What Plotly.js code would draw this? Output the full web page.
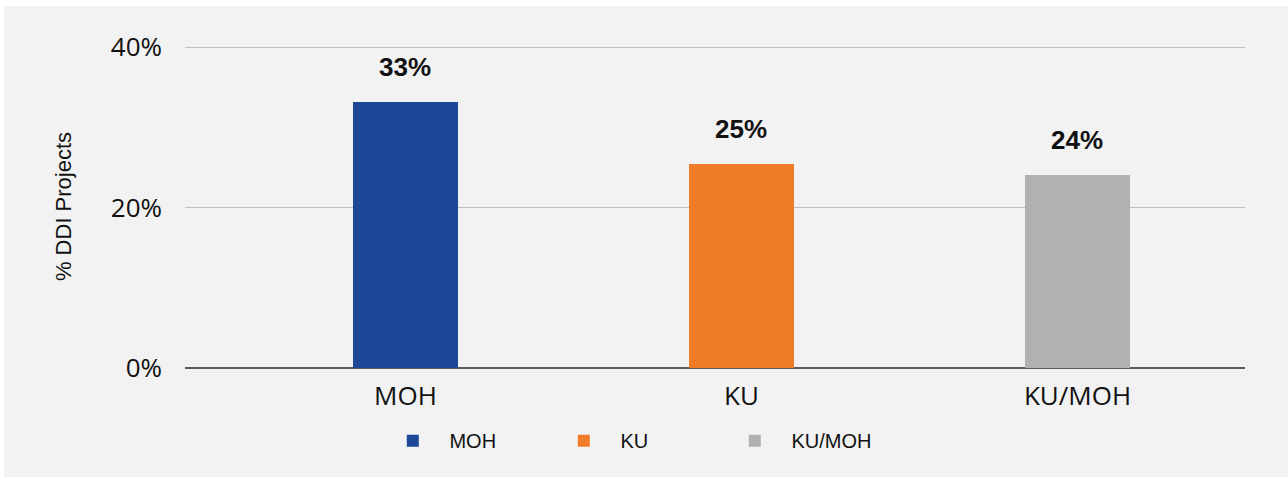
<!DOCTYPE html>
<html lang="en">
<head>
  <meta charset="UTF-8">
  <title>% DDI Projects</title>
  <script src="https://cdn.plot.ly/plotly-3.0.1.min.js"></script>
  <style>
    body {
      margin: 0;
      padding: 6px 0 0 4px;
      background: white;
    }
    #chart {
      width: 1284px;
      height: 471px;
    }
  </style>
</head>
<body>
  <div id="chart"></div>
  <script>
    // Data
    const categories = ['MOH', 'KU', 'KU/MOH'];
    const values = [33.1, 25.4, 24.05];
    const labels = ['33%', '25%', '24%'];
    const colors = ['#1d4897', '#f07c2a', '#b1b1b2'];
    const yTicks = [0, 20, 40];
    const yTickText = ['0%', '20%', '40%'];

    const nbsp = '\u00a0\u00a0\u00a0';

    // one trace per category so the legend shows each one
    const data = categories.map((c, i) => ({
      type: 'bar',
      x: [c],
      y: [values[i]],
      name: nbsp + c,
      width: 0.3125,
      marker: { color: colors[i] },
      hoverinfo: 'x+y'
    }));

    const annotations = categories.map((c, i) => ({
      x: c,
      y: values[i],
      text: labels[i],
      showarrow: false,
      yanchor: 'middle',
      yshift: 35,
      font: { family: 'Liberation Sans, Arial, sans-serif', size: 26, color: '#111', weight: 'bold' }
    }));

    const layout = {
      paper_bgcolor: '#f2f2f2',
      plot_bgcolor: '#f2f2f2',
      margin: { l: 181, r: 43, t: 39, b: 109 },
      showlegend: true,
      legend: {
        orientation: 'h',
        x: 0.438, xanchor: 'center',
        y: -0.225, yanchor: 'middle',
        entrywidth: 126,
        entrywidthmode: 'pixels',
        font: { family: 'Liberation Sans, Arial, sans-serif', size: 20, color: '#111' },
        traceorder: 'normal'
      },
      xaxis: {
        type: 'category',
        range: [-0.656, 2.4985],
        showgrid: false,
        showline: false,
        ticks: '',
        ticklabelstandoff: 10,
        tickfont: { family: 'Open Sans, sans-serif', size: 26, color: '#111' },
        fixedrange: true
      },
      yaxis: {
        range: [0, 40.25],
        tickvals: yTicks,
        ticktext: yTickText,
        showgrid: true,
        gridcolor: '#bfbfbf',
        gridwidth: 1,
        zeroline: true,
        zerolinecolor: '#595959',
        zerolinewidth: 2,
        showline: false,
        ticklabelstandoff: 22,
        tickfont: { family: 'Open Sans, sans-serif', size: 26, color: '#111' },
        title: {
          text: '% DDI Projects',
          standoff: 33,
          font: { family: 'Liberation Sans, Arial, sans-serif', size: 22, color: '#111' }
        },
        fixedrange: true
      },
      annotations: annotations,
      bargap: 0
    };

    Plotly.newPlot('chart', data, layout, { displayModeBar: false, responsive: false });
  </script>
</body>
</html>
